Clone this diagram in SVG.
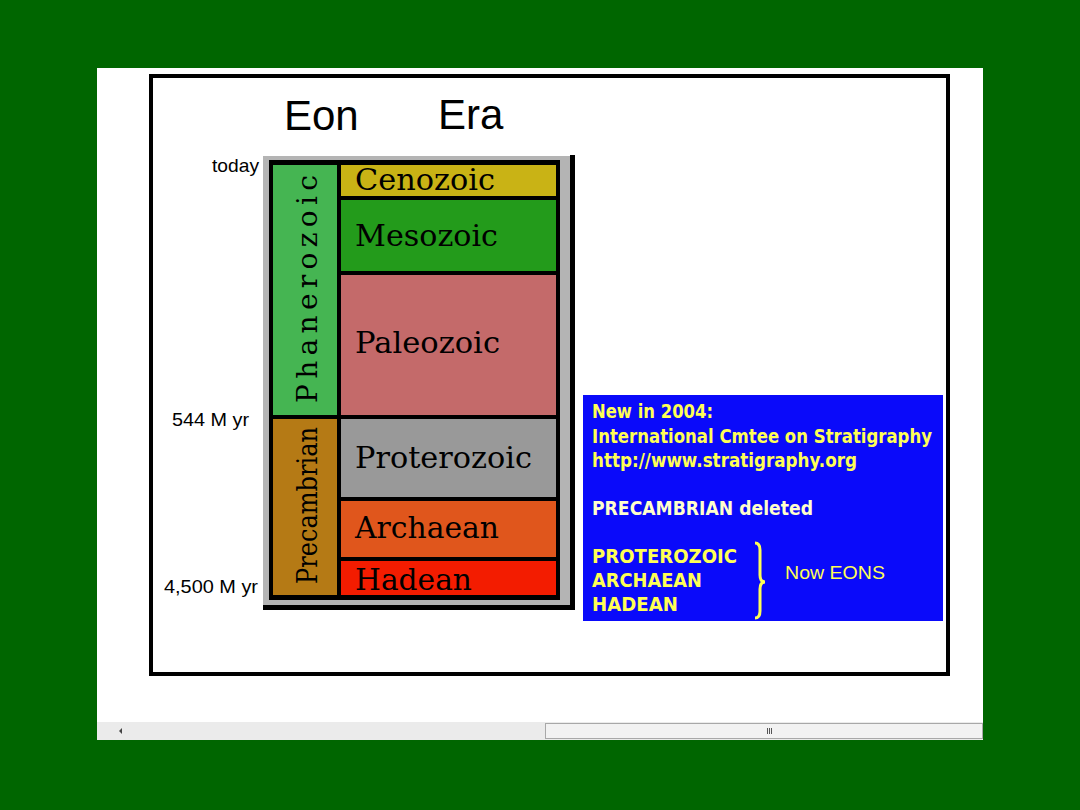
<svg xmlns="http://www.w3.org/2000/svg" width="1080" height="810" viewBox="0 0 1080 810">
<style>
.lbl{font-family:"Liberation Sans",Arial,sans-serif;fill:#000}
.era{font-family:"DejaVu Serif","Liberation Serif",serif;font-size:29px;fill:#000}
.eon{font-family:"DejaVu Serif","Liberation Serif",serif;font-size:28px;fill:#000}
.note{font-family:"DejaVu Sans","Liberation Sans",sans-serif;font-size:19px;font-weight:bold;fill:#FFFF55}
</style>
<rect x="0" y="0" width="1080" height="810" fill="#006600"/>
<rect x="97" y="68" width="886" height="672" fill="#FFFFFF"/>
<rect x="151" y="76" width="797" height="598" fill="none" stroke="#000" stroke-width="4"/>

<g id="headers">
<text class="lbl" x="284" y="130" font-size="42">Eon</text>
<text class="lbl" x="438" y="129" font-size="42">Era</text>
</g>
<g id="time-labels">
<text class="lbl" x="259" y="172" font-size="19" text-anchor="end" textLength="47" lengthAdjust="spacingAndGlyphs">today</text>
<text class="lbl" x="249" y="426" font-size="19" text-anchor="end" textLength="77" lengthAdjust="spacingAndGlyphs">544 M yr</text>
<text class="lbl" x="258" y="593" font-size="19" text-anchor="end" textLength="94" lengthAdjust="spacingAndGlyphs">4,500 M yr</text>
</g>

<g id="chart-frame">
<rect x="570" y="155" width="5" height="455" fill="#000"/>
<rect x="263" y="605" width="312" height="5" fill="#000"/>
<rect x="263" y="156" width="307" height="449" fill="#B4B4B4"/>
<rect x="269" y="160" width="291" height="440" fill="#000"/>
</g>

<g id="eon-phanerozoic">
<rect x="273" y="165" width="64" height="250" fill="#45B552"/>
<text class="eon" transform="translate(317,403) rotate(-90)" textLength="228" lengthAdjust="spacing">Phanerozoic</text>
</g>
<g id="eon-precambrian">
<rect x="273" y="419" width="64" height="176" fill="#B57A15"/>
<text class="eon" transform="translate(317,584) rotate(-90)" textLength="157" lengthAdjust="spacingAndGlyphs">Precambrian</text>
</g>

<g id="era-cenozoic">
<rect x="341" y="165" width="215" height="31" fill="#C9B315"/>
<text class="era" x="355" y="190" textLength="140" lengthAdjust="spacingAndGlyphs">Cenozoic</text>
</g>
<g id="era-mesozoic">
<rect x="341" y="200" width="215" height="71" fill="#239B1B"/>
<text class="era" x="355" y="246" textLength="143" lengthAdjust="spacingAndGlyphs">Mesozoic</text>
</g>
<g id="era-paleozoic">
<rect x="341" y="275" width="215" height="140" fill="#C46A6A"/>
<text class="era" x="355" y="353" textLength="145" lengthAdjust="spacingAndGlyphs">Paleozoic</text>
</g>
<g id="era-proterozoic">
<rect x="341" y="419" width="215" height="78" fill="#999999"/>
<text class="era" x="355" y="468" textLength="177" lengthAdjust="spacingAndGlyphs">Proterozoic</text>
</g>
<g id="era-archaean">
<rect x="341" y="501" width="215" height="56" fill="#E0561C"/>
<text class="era" x="355" y="538" textLength="144" lengthAdjust="spacingAndGlyphs">Archaean</text>
</g>
<g id="era-hadean">
<rect x="341" y="561" width="215" height="34" fill="#F31C00"/>
<text class="era" x="355" y="590" textLength="117" lengthAdjust="spacingAndGlyphs">Hadean</text>
</g>

<g id="note-box">
<rect x="583" y="395" width="360" height="226" fill="#0A0AFA"/>
<text class="note" x="592" y="418" textLength="121" lengthAdjust="spacingAndGlyphs">New in 2004:</text>
<text class="note" x="592" y="443" textLength="340" lengthAdjust="spacingAndGlyphs">International Cmtee on Stratigraphy</text>
<text class="note" x="592" y="467" textLength="265" lengthAdjust="spacingAndGlyphs">http://www.stratigraphy.org</text>
<text class="note" x="592" y="515" textLength="221" lengthAdjust="spacingAndGlyphs" style="fill:#FFFFCC">PRECAMBRIAN deleted</text>
<text class="note" x="592" y="563" textLength="145" lengthAdjust="spacingAndGlyphs">PROTEROZOIC</text>
<text class="note" x="592" y="587" textLength="110" lengthAdjust="spacingAndGlyphs">ARCHAEAN</text>
<text class="note" x="592" y="611" textLength="86" lengthAdjust="spacingAndGlyphs">HADEAN</text>
<path d="M755,543 Q760,543 760,550 L760,575 Q760,582 765,582 Q760,582 760,589 L760,611 Q760,618 755,618" fill="none" stroke="#FFFF55" stroke-width="3"/>
<text class="lbl" x="785" y="579" font-size="19" style="fill:#FFFF55" textLength="100" lengthAdjust="spacingAndGlyphs">Now EONS</text>
</g>

<g id="scrollbar">
<rect x="97" y="722" width="886" height="18" fill="#EBEBEB"/>
<rect x="545.5" y="723.5" width="437" height="15" fill="#F2F2F2" stroke="#A8A8A8" stroke-width="1"/>
<polygon points="119,731 122,728 122,734" fill="#444"/>
<line x1="767.5" y1="728" x2="767.5" y2="734" stroke="#555"/>
<line x1="769.5" y1="728" x2="769.5" y2="734" stroke="#555"/>
<line x1="771.5" y1="728" x2="771.5" y2="734" stroke="#555"/>
</g>
</svg>
